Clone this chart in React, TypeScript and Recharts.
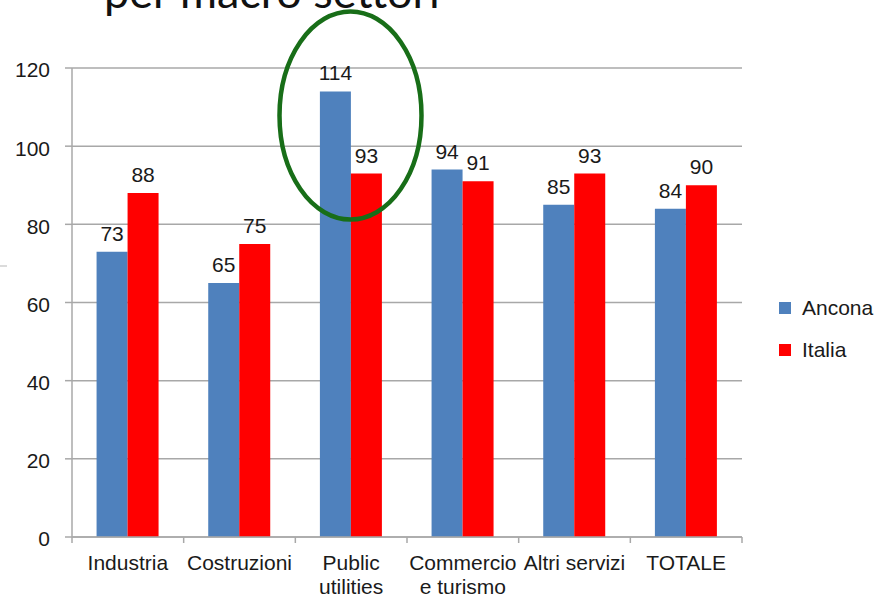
import React from 'react';
import { BarChart, Bar, XAxis, YAxis, CartesianGrid, LabelList } from 'recharts';

// values
const categories = ['Industria', 'Costruzioni', 'Public utilities', 'Commercio e turismo', 'Altri servizi', 'TOTALE'];
const tickLabels = [['Industria'], ['Costruzioni'], ['Public', 'utilities'], ['Commercio', 'e turismo'], ['Altri servizi'], ['TOTALE']];
const ancona = [73, 65, 114, 94, 85, 84];
const italia = [88, 75, 93, 91, 93, 90];
const yTicks = [0, 20, 40, 60, 80, 100, 120];

const seriesNames = ['Ancona', 'Italia'];
const seriesColors = ['#4f81bd', '#ff0000'];

const data = categories.map((c, i) => ({ name: c, Ancona: ancona[i], Italia: italia[i] }));

const W = 878;
const H = 598;
const PLOT_LEFT = 72;
const PLOT_RIGHT = 742;
const BAND = (PLOT_RIGHT - PLOT_LEFT) / categories.length;
const FONT = '"Liberation Sans", Arial, sans-serif';
const TEXT = '#1a1a1a';
const GRID = '#a8a8a8';

const CategoryTick = (props: any) => {
  const { x, y, index } = props;
  const lines = tickLabels[index] || [];
  const last = index === categories.length - 1;
  return (
    <g>
      <line x1={x - BAND / 2} x2={x - BAND / 2} y1={y} y2={y + 6} stroke={GRID} strokeWidth={1.5} />
      {last && <line x1={x + BAND / 2} x2={x + BAND / 2} y1={y} y2={y + 6} stroke={GRID} strokeWidth={1.5} />}
      <text x={x} y={y + 33} textAnchor="middle" fontSize={21} fontFamily={FONT} fill={TEXT}>
        {lines.map((l, i) => (
          <tspan key={i} x={x} dy={i === 0 ? 0 : 24}>{l}</tspan>
        ))}
      </text>
    </g>
  );
};

// legend drawn beside the chart, like the slide
const LegendBox = () => (
  <div style={{ position: 'absolute', left: 779, top: 287, fontFamily: FONT, fontSize: 21, color: TEXT }}>
    {seriesNames.map((n, i) => (
      <div key={n} style={{ display: 'flex', alignItems: 'center', height: 42 }}>
        <span style={{ width: 12, height: 12, background: seriesColors[i], marginRight: 11, display: 'inline-block' }} />
        <span>{n}</span>
      </div>
    ))}
  </div>
);

export default function App() {
  return (
    <div style={{ position: 'absolute', left: 0, top: 0, width: W, height: H, background: '#fff', overflow: 'hidden' }}>
      <BarChart
        width={W}
        height={H}
        data={data}
        margin={{ top: 68, right: W - PLOT_RIGHT, bottom: 11, left: 0 }}
        barCategoryGap="22%"
        barGap={0}
      >
        <CartesianGrid vertical={false} stroke={GRID} strokeWidth={1.5} />
        <XAxis
          dataKey="name"
          height={50}
          axisLine={{ stroke: GRID, strokeWidth: 1.5 }}
          tickLine={false}
          tickSize={0}
          tickMargin={0}
          interval={0}
          tick={<CategoryTick />}
        />
        <YAxis
          width={PLOT_LEFT}
          domain={[0, 120]}
          ticks={yTicks}
          interval={0}
          axisLine={{ stroke: GRID, strokeWidth: 1.5 }}
          tickLine={{ stroke: GRID, strokeWidth: 1.5 }}
          tickSize={7}
          tickMargin={15}
          tick={{ fontSize: 21, fontFamily: FONT, fill: TEXT, dy: 2 }}
        />
        {seriesNames.map((n, i) => (
          <Bar key={n} dataKey={n} fill={seriesColors[i]} isAnimationActive={false}>
            <LabelList dataKey={n} position="top" offset={11} fontSize={21} fontFamily={FONT} fill={TEXT} />
          </Bar>
        ))}
      </BarChart>
      <LegendBox />
      <svg width={W} height={H} style={{ position: 'absolute', left: 0, top: 0, pointerEvents: 'none' }}>
        <text x={104} y={8} fontFamily="Lato, sans-serif" fontSize={45} fill="#111">per macro settori</text>
        <line x1={0} x2={7} y1={266} y2={266} stroke="#cfcfcf" strokeWidth={1.5} />
        <ellipse cx={350.5} cy={115.5} rx={71} ry={104} fill="none" stroke="#186e18" strokeWidth={4.5} />
      </svg>
    </div>
  );
}
